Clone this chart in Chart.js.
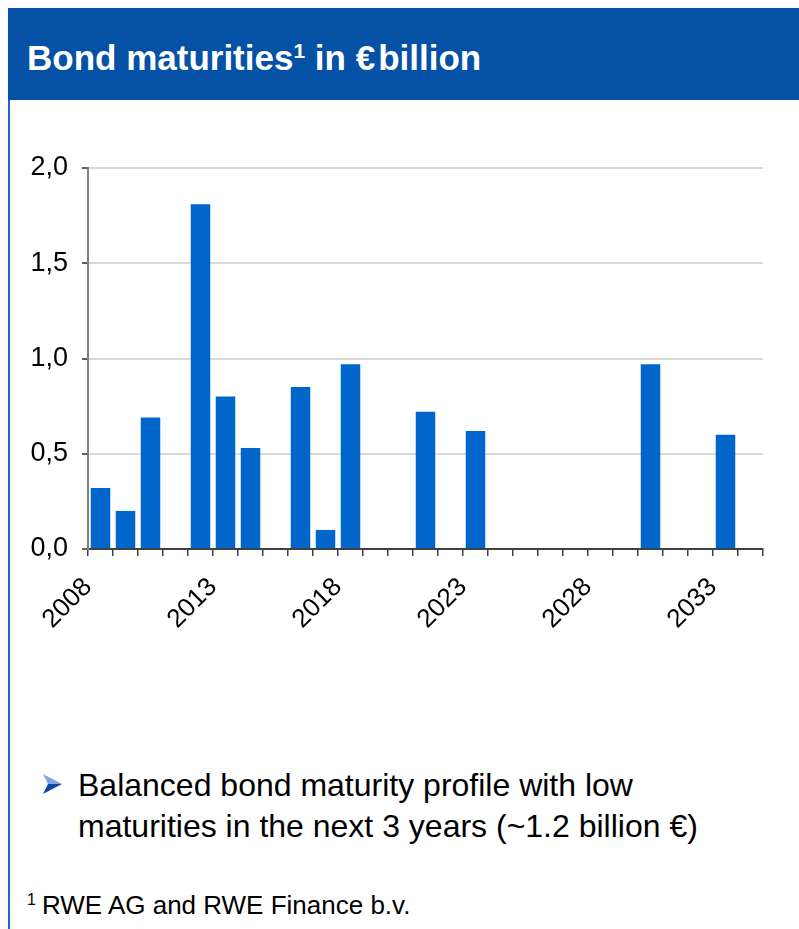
<!DOCTYPE html>
<html>
<head>
<meta charset="utf-8">
<script src="https://cdn.jsdelivr.net/npm/chart.js@4"></script>
<style>
    body { margin: 0; width: 799px; height: 929px; background: #fff; position: relative; overflow: hidden; font-family: "Liberation Sans", Arial, sans-serif; }
    .header { position: absolute; left: 8px; top: 8px; width: 791px; height: 92px; background: #0451a5; }
    .header h1 { position: absolute; left: 19px; top: 32px; margin: 0; color: #fff; font-size: 35px; font-weight: bold; line-height: 1; white-space: nowrap; }
    .header sup { font-size: 21px; vertical-align: 0; position: relative; top: -12px; }
    .header .euro { margin-right: 3px; }
    .frame { position: absolute; left: 8px; top: 100px; width: 2px; height: 829px; background: #2a62c0; }
    .chart-box { position: absolute; left: 0; top: 130px; width: 799px; height: 530px; }
    .bullet { position: absolute; left: 78px; top: 765px; font-size: 32px; line-height: 41px; color: #000; white-space: nowrap; }
    .arrow { position: absolute; left: 43px; top: 774px; }
    .note { position: absolute; left: 27px; top: 890px; font-size: 26px; color: #000; white-space: nowrap; }
    .note sup { font-size: 16px; vertical-align: 0; position: relative; top: -9px; margin-right: 6px; }
</style>
</head>
<body>
<div class="header"><h1>Bond maturities<sup>1</sup> in <span class="euro">€</span>billion</h1></div>
<div class="frame"></div>
<div class="chart-box"><canvas id="bondChart" width="799" height="530"></canvas></div>
<svg class="arrow" width="20" height="20" viewBox="0 0 20 20">
    <polygon points="0,0 19,10 5,10" fill="#7ea6e0"/>
    <polygon points="5,10 19,10 0,20" fill="#0d47a8"/>
</svg>
<div class="bullet">Balanced bond maturity profile with low<br>maturities in the next 3 years (~1.2 billion €)</div>
<div class="note"><sup>1</sup>RWE AG and RWE Finance b.v.</div>

<script>
const years = ['2008', '2009', '2010', '2011', '2012', '2013', '2014', '2015', '2016',
    '2017', '2018', '2019', '2020', '2021', '2022', '2023', '2024', '2025', '2026',
    '2027', '2028', '2029', '2030', '2031', '2032', '2033', '2034'];
const maturities = [0.32, 0.20, 0.69, 0, 1.81, 0.80, 0.53, 0, 0.85,
    0.10, 0.97, 0, 0, 0.72, 0, 0.62, 0, 0, 0,
    0, 0, 0, 0.97, 0, 0, 0.60, 0];
const shownYears = ['2008', '2013', '2018', '2023', '2028', '2033'];
const yTicks = [0, 0.5, 1.0, 1.5, 2.0];

const ctx = document.getElementById('bondChart').getContext('2d');
new Chart(ctx, {
    type: 'bar',
    data: {
        labels: years,
        datasets: [{
            data: maturities,
            backgroundColor: '#0066cc',
            categoryPercentage: 1,
            barPercentage: 0.78
        }]
    },
    options: {
        responsive: false,
        animation: false,
        layout: { padding: { top: 38, right: 36, left: 0, bottom: 0 } },
        plugins: { legend: { display: false }, tooltip: { enabled: false } },
        scales: {
            x: {
                offset: true,
                afterFit: function(scale) { scale.height = 111; },
                border: { color: '#404040', width: 2 },
                grid: {
                    offset: true,
                    drawOnChartArea: false,
                    color: '#404040',
                    lineWidth: 1.5,
                    tickLength: 7
                },
                ticks: {
                    autoSkip: false,
                    minRotation: 45,
                    maxRotation: 45,
                    labelOffset: -12.5,
                    padding: 16,
                    color: '#000',
                    font: { family: 'Liberation Sans', size: 26 },
                    callback: function(value) {
                        const label = this.getLabelForValue(value);
                        return shownYears.includes(label) ? label : '';
                    }
                }
            },
            y: {
                min: 0,
                max: 2,
                afterFit: function(scale) { scale.width = 88; },
                afterBuildTicks: function(scale) {
                    scale.ticks = yTicks.map(v => ({ value: v }));
                },
                border: { color: '#808080', width: 2 },
                grid: {
                    color: '#d9d9d9',
                    lineWidth: 2,
                    tickColor: '#606060',
                    tickLength: 6
                },
                ticks: {
                    padding: 14,
                    color: '#000',
                    font: { family: 'Liberation Sans', size: 27 },
                    callback: function(value) {
                        return value.toFixed(1).replace('.', ',');
                    }
                }
            }
        }
    }
});
</script>
</body>
</html>
